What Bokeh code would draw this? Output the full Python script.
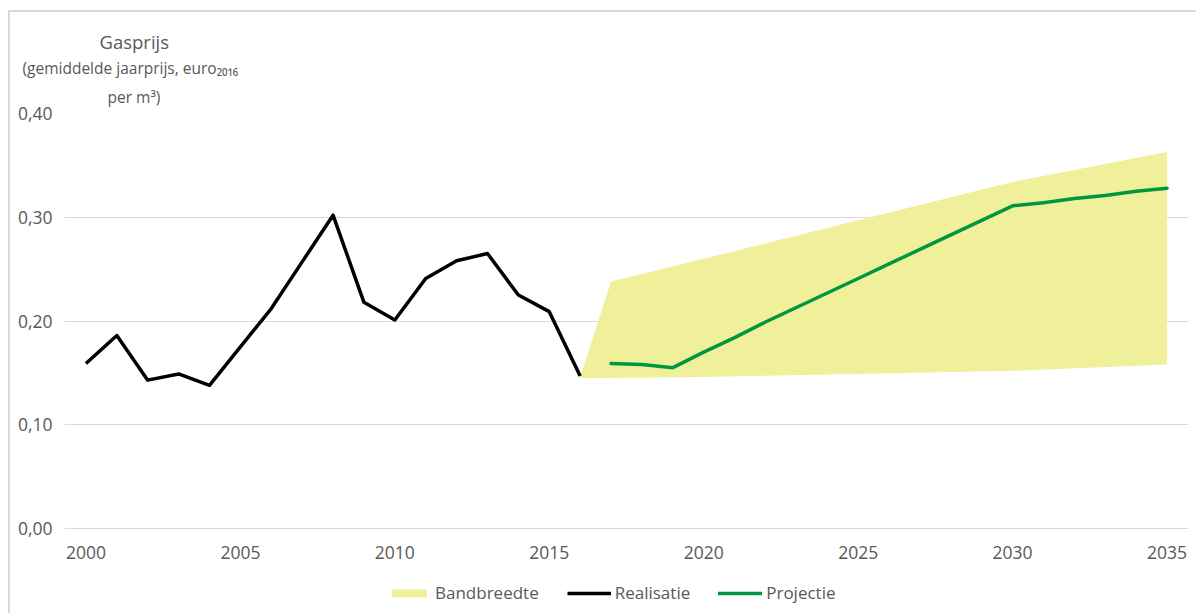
from bokeh.plotting import figure
from bokeh.models import (Range1d, FixedTicker, CustomJSTickFormatter, Title,
                          Legend, LegendItem)
from bokeh.embed import file_html
from bokeh.resources import INLINE

# ---- data -------------------------------------------------------------
real_years = [2000, 2001, 2002, 2003, 2004, 2005, 2006, 2007, 2008, 2009,
              2010, 2011, 2012, 2013, 2014, 2015, 2016]
real_price = [0.159, 0.186, 0.143, 0.149, 0.138, 0.175, 0.212, 0.257, 0.302,
              0.218, 0.201, 0.241, 0.258, 0.265, 0.225, 0.209, 0.147]

proj_years = [2017, 2018, 2019, 2020, 2021, 2022, 2023, 2024, 2025, 2026,
              2027, 2028, 2029, 2030, 2031, 2032, 2033, 2034, 2035]
proj_price = [0.159, 0.158, 0.155, 0.170, 0.184, 0.199, 0.213, 0.227, 0.241,
              0.255, 0.269, 0.283, 0.297, 0.311, 0.314, 0.318, 0.321, 0.325,
              0.328]

band_years = [2016, 2017, 2020, 2025, 2030, 2035]
band_low = [0.145, 0.145, 0.146, 0.149, 0.152, 0.158]
band_high = [0.146, 0.238, 0.260, 0.297, 0.334, 0.363]

x_ticks = [2000, 2005, 2010, 2015, 2020, 2025, 2030, 2035]
y_ticks = [0.0, 0.1, 0.2, 0.3, 0.4]

title_text = "Gasprijs"
sub_text = "(gemiddelde jaarprijs, euro₂₀₁₆"
sub_text2 = "per m³)"
legend_labels = ["Bandbreedte", "Realisatie", "Projectie"]

# ---- styling ----------------------------------------------------------
FONT = "Open Sans"
TXT = "#595959"
BAND = "#F1F09A"
GREEN = "#00973F"
GRID = "#d9d9d9"

# frame spans the plot area plus the legend strip below it;
# 0.40 -> top edge, 0.00 sits 85 px above the frame bottom
Y_BOTTOM = -0.4 * 85 / 415
# 6 px of extra room on both sides so the end tick labels are not clipped
X_PAD = 6 * 36 / 1112

p = figure(frame_width=1124, frame_height=500, output_backend="svg",
           toolbar_location=None,
           x_range=Range1d(1999.5 - X_PAD, 2035.5 + X_PAD),
           y_range=Range1d(Y_BOTTOM, 0.40),
           min_border_left=54, min_border_right=8, min_border_top=101,
           min_border_bottom=0)
p.styles = {"position": "relative", "left": "8px", "top": "10px",
            "border-left": f"2px solid {GRID}",
            "border-top": f"2px solid {GRID}"}
p.outline_line_color = None

band = p.varea(x=band_years, y1=band_low, y2=band_high, fill_color=BAND,
               fill_alpha=1.0)
real = p.line(real_years, real_price, line_color="black", line_width=3.5,
              line_join="round")
proj = p.line(proj_years, proj_price, line_color=GREEN, line_width=3.5,
              line_join="round", line_cap="round")

p.xgrid.grid_line_color = None
p.ygrid.grid_line_color = GRID
p.ygrid.grid_line_width = 1
p.ygrid.ticker = FixedTicker(ticks=y_ticks)

p.xaxis.ticker = FixedTicker(ticks=x_ticks)
p.xaxis.fixed_location = 0
p.yaxis.ticker = FixedTicker(ticks=y_ticks)
p.yaxis.formatter = CustomJSTickFormatter(
    code="return tick.toFixed(2).replace('.', ',');")
for ax in (p.xaxis[0], p.yaxis[0]):
    ax.axis_line_color = None
    ax.major_tick_line_color = None
    ax.minor_tick_line_color = None
    ax.major_tick_out = 0
    ax.major_tick_in = 0
    ax.minor_tick_out = 0
    ax.major_label_text_font = FONT
    ax.major_label_text_font_size = "17.5px"
    ax.major_label_text_color = TXT
p.xaxis.major_label_standoff = 17
p.yaxis.major_label_standoff = 12

# title block: stacked titles above the frame (first added = nearest)
def ttl(text, size, offset, standoff):
    return Title(text=text, align="left", offset=offset, standoff=standoff,
                 text_font=FONT, text_font_size=size, text_color=TXT,
                 text_font_style="normal")

p.add_layout(ttl(sub_text2, "15.5px", 43, 11), "above")
p.add_layout(ttl(sub_text, "15.5px", -42, 0), "above")
p.add_layout(ttl(title_text, "18.5px", 35, 2), "above")

legend = Legend(items=[LegendItem(label=legend_labels[0], renderers=[band]),
                       LegendItem(label=legend_labels[1], renderers=[real]),
                       LegendItem(label=legend_labels[2], renderers=[proj])],
                orientation="horizontal", location=(323, 9),
                glyph_width=44, glyph_height=10, label_height=20,
                label_standoff=4, spacing=28, padding=0, margin=0,
                border_line_color=None, background_fill_alpha=0,
                label_text_font=FONT, label_text_font_size="17px",
                label_text_color=TXT)
p.add_layout(legend)

open("out.html", "w").write(file_html(p, INLINE))
